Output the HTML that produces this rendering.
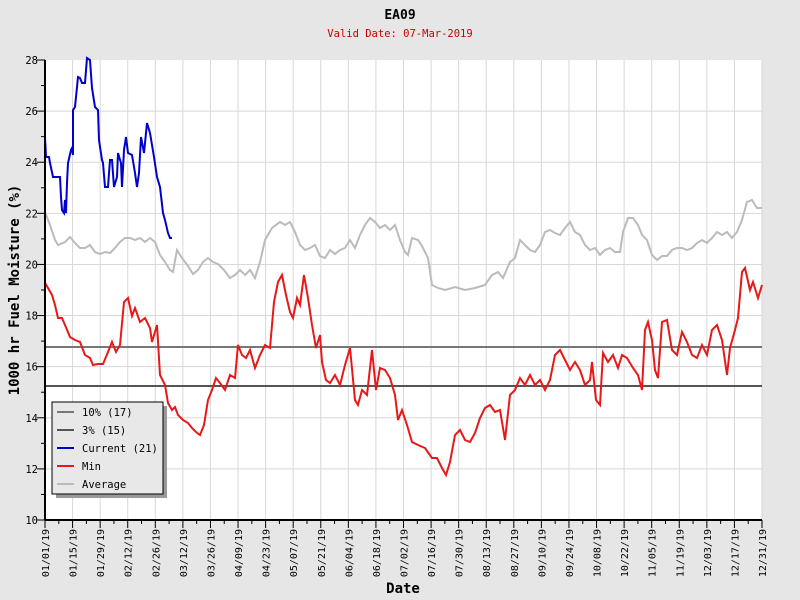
<!DOCTYPE html>
<html><head><meta charset="utf-8"><style>
body{margin:0;background:#e6e6e6;}
svg{display:block;font-family:"DejaVu Sans Mono","Liberation Mono",monospace;}
</style></head><body>
<svg width="800" height="600" xmlns="http://www.w3.org/2000/svg">
<rect width="800" height="600" fill="#e6e6e6"/>
<rect x="45" y="60" width="717" height="460" fill="#fff"/>
<g stroke="#d8d8d8" stroke-width="1" id="grid"></g>
<text x="400" y="19" text-anchor="middle" font-size="13" font-weight="bold">EA09</text>
<text x="400" y="37" text-anchor="middle" font-size="10.5" fill="#cc0000">Valid Date: 07-Mar-2019</text>
<text transform="translate(19,290) rotate(-90)" text-anchor="middle" font-size="14" font-weight="bold">1000 hr Fuel Moisture (%)</text>
<text x="403" y="593" text-anchor="middle" font-size="14" font-weight="bold">Date</text>
<g id="ylab" font-size="10.5" text-anchor="end"></g>
<g id="xlab" font-size="10" text-anchor="end"></g>
<line x1="45" y1="347" x2="762" y2="347" stroke="#777" stroke-width="2"/>
<line x1="45" y1="386" x2="762" y2="386" stroke="#555" stroke-width="2"/>
<polyline fill="none" stroke="#bbb" stroke-width="2" points="45,212 50,225 55,240 58,245 65,242 70,237 75,243 80,248 85,248 90,245 95,252 100,254 105,252 110,253 115,248 120,242 125,238 130,238 135,240 140,238 145,242 150,238 155,242 160,255 165,262 170,270 173,272 177,250 182,258 188,266 193,274 198,270 203,262 208,258 213,262 218,264 224,270 230,278 235,275 240,270 245,275 250,270 255,278 260,262 265,240 272,228 280,222 285,225 290,222 295,232 300,245 305,250 310,248 315,245 320,256 325,258 330,250 335,254 340,250 345,248 350,240 355,248 360,235 365,225 370,218 375,222 380,228 385,225 390,230 395,225 400,240 405,252 408,255 412,238 418,240 422,246 428,258 432,285 438,288 445,290 455,287 465,290 475,288 485,285 492,275 498,272 503,278 510,262 515,258 520,240 525,245 530,250 535,252 540,245 545,232 550,230 555,233 560,235 565,228 570,222 575,232 580,235 585,245 590,250 595,248 600,255 605,250 610,248 615,252 620,252 623,232 628,218 633,218 638,225 642,235 647,240 652,255 657,260 662,256 667,256 672,250 677,248 682,248 687,250 692,248 697,243 702,240 707,243 712,238 717,232 722,235 727,232 732,238 737,232 742,220 747,202 752,200 757,208 762,208"/>
<polyline fill="none" stroke="#e81818" stroke-width="2" points="45,283 48,288 52,295 55,305 58,318 62,318 65,325 70,337 75,340 80,342 85,355 90,358 93,365 98,364 103,364 108,352 112,342 116,352 120,345 124,302 128,298 132,316 135,308 140,322 145,318 150,328 152,342 157,325 160,375 165,385 168,403 172,410 175,407 178,415 183,420 188,423 192,428 196,432 200,435 204,425 208,400 212,390 216,378 220,383 225,390 230,375 235,378 238,345 242,355 246,358 250,350 255,368 260,355 265,345 270,348 274,302 278,282 282,275 286,295 290,312 293,318 297,298 300,305 304,275 308,298 312,325 316,348 320,335 322,362 326,380 330,383 335,375 340,385 345,365 350,348 355,400 358,405 362,390 367,395 372,350 376,390 380,368 385,370 390,378 395,395 398,420 402,410 407,425 412,442 418,445 425,448 432,458 437,458 442,468 446,475 450,462 455,435 460,430 465,440 470,442 475,433 480,418 485,408 490,405 495,412 500,410 505,440 510,395 515,390 520,378 525,385 530,375 535,385 540,380 545,390 550,380 555,355 560,350 565,360 570,370 575,362 580,370 585,385 590,380 592,362 596,400 600,405 603,353 608,362 613,355 618,368 622,355 627,358 633,368 638,375 642,390 645,330 648,322 652,340 655,370 658,378 662,322 667,320 672,350 677,355 682,332 687,342 692,355 697,358 702,345 707,355 712,330 717,325 722,340 727,375 730,348 735,330 738,318 742,272 745,268 750,290 753,282 758,298 762,285"/>
<polyline fill="none" stroke="#0000cc" stroke-width="2" points="45,137 46,157 49,157 50,163 53,177 57,177 60,177 61,197 62,210 64,213 65,200 66,213 67,183 68,163 71,150 72,148 73,155 73,110 75,107 78,77 80,78 82,83 85,83 87,58 90,60 92,88 95,107 98,110 99,140 102,160 103,163 105,187 108,187 110,160 112,160 114,187 117,177 118,153 121,163 122,187 124,150 126,137 128,153 132,155 135,173 137,187 139,173 141,137 144,153 147,123 150,133 154,157 157,177 160,187 163,213 165,220 168,233 170,238 172,238"/>
<line x1="45" y1="60" x2="45" y2="520" stroke="#000" stroke-width="2"/>
<line x1="45" y1="520" x2="762" y2="520" stroke="#000" stroke-width="2"/>
<g stroke="#000" stroke-width="1" id="ticks"></g>
<rect x="56" y="406" width="111" height="92" fill="#999"/>
<rect x="52" y="402" width="111" height="92" fill="#e8e8e8" stroke="#000" stroke-width="1"/>
<g font-size="10.5">
<line x1="57" y1="412" x2="74" y2="412" stroke="#777" stroke-width="2"/><text x="82" y="416">10% (17)</text>
<line x1="57" y1="430" x2="74" y2="430" stroke="#555" stroke-width="2"/><text x="82" y="434">3% (15)</text>
<line x1="57" y1="448" x2="74" y2="448" stroke="#0000cc" stroke-width="2"/><text x="82" y="452">Current (21)</text>
<line x1="57" y1="466" x2="74" y2="466" stroke="#e81818" stroke-width="2"/><text x="82" y="470">Min</text>
<line x1="57" y1="484" x2="74" y2="484" stroke="#bbb" stroke-width="2"/><text x="82" y="488">Average</text>
</g>
<script>
var ns="http://www.w3.org/2000/svg";
function el(p,t,a,txt){var e=document.createElementNS(ns,t);for(var k in a)e.setAttribute(k,a[k]);if(txt)e.textContent=txt;document.getElementById(p).appendChild(e);}
for(var v=10;v<=28;v++){var y=520-(v-10)*25.556;
 if(v%2==0){ if(v>10&&v<28)el("grid","line",{x1:45,x2:762,y1:y,y2:y}); el("ylab","text",{x:38,y:y+4},String(v)); el("ticks","line",{x1:37,x2:45,y1:y,y2:y});}
 else el("ticks","line",{x1:41,x2:45,y1:y,y2:y});}
var d=["01/01/19","01/15/19","01/29/19","02/12/19","02/26/19","03/12/19","03/26/19","04/09/19","04/23/19","05/07/19","05/21/19","06/04/19","06/18/19","07/02/19","07/16/19","07/30/19","08/13/19","08/27/19","09/10/19","09/24/19","10/08/19","10/22/19","11/05/19","11/19/19","12/03/19","12/17/19","12/31/19"];
for(var i=0;i<27;i++){var x=45+i*717/26;
 if(i>0)el("grid","line",{x1:x,x2:x,y1:60,y2:520});
 el("ticks","line",{x1:x,x2:x,y1:520,y2:528});
 if(i<26){var xm=x+717/52;el("ticks","line",{x1:xm,x2:xm,y1:520,y2:524});}
 el("xlab","text",{transform:"translate("+(x+4)+",529) rotate(-90)"},d[i]);}
</script>
</svg>
</body></html>
